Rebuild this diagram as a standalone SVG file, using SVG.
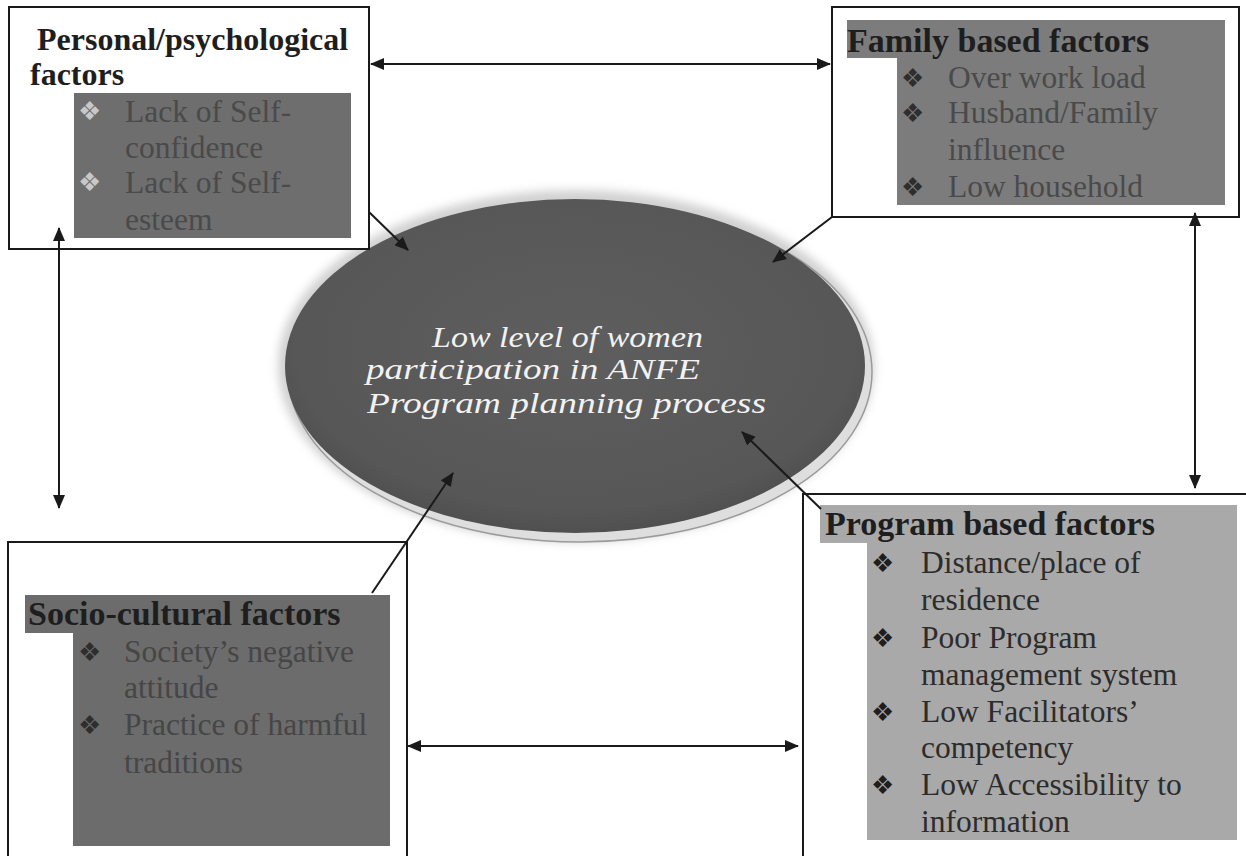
<svg xmlns="http://www.w3.org/2000/svg" width="1246" height="856" viewBox="0 0 1246 856">
<style>
.frame{fill:#ffffff;stroke:#1a1a1a;stroke-width:2}
.title{font-family:"Liberation Serif","Times New Roman",serif;font-weight:bold;fill:#1e1e1e}
.item{font-family:"Liberation Serif","Times New Roman",serif;font-size:31.5px}
.bul{font-family:"DejaVu Sans",sans-serif;font-size:26px}
.conn{stroke:#1a1a1a;stroke-width:2;fill:none}
.center{font-family:"Liberation Serif","Times New Roman",serif;font-style:italic;font-size:30px;fill:#f2f2f2}
</style>
<defs>
<marker id="ah" viewBox="0 0 14 12" refX="13" refY="6" markerWidth="14" markerHeight="12" markerUnits="userSpaceOnUse" orient="auto-start-reverse">
<path d="M0,0 L14,6 L0,12 Z" fill="#1a1a1a"/>
</marker>
<radialGradient id="eg" cx="0.5" cy="0.45" r="0.6">
<stop offset="0" stop-color="#5e5e5e"/>
<stop offset="0.8" stop-color="#575757"/>
<stop offset="1" stop-color="#4a4a4a"/>
</radialGradient>
<filter id="blur" x="-10%" y="-10%" width="120%" height="120%">
<feGaussianBlur stdDeviation="5"/>
</filter>
</defs>

<g id="center-node">
<ellipse cx="576" cy="366" rx="298" ry="176" fill="#bdbdbd" filter="url(#blur)" opacity="0.7"/>
<ellipse cx="580" cy="372" rx="292" ry="170" fill="#dedede" stroke="#9a9a9a" stroke-width="1.5"/>
<ellipse cx="575" cy="366" rx="290" ry="167" fill="url(#eg)"/>
<text class="center" x="432" y="347" textLength="271" lengthAdjust="spacingAndGlyphs">Low level of women</text>
<text class="center" x="366" y="379" textLength="334" lengthAdjust="spacingAndGlyphs">participation in ANFE</text>
<text class="center" x="367" y="413" textLength="399" lengthAdjust="spacingAndGlyphs">Program planning process</text>
</g>

<g id="personal-factors">
<rect class="frame" x="9" y="7" width="360" height="242"/>
<rect x="74" y="93" width="277" height="145" fill="#6e6e6e"/>
<text class="title" x="37" y="50" font-size="32">Personal/psychological</text>
<text class="title" x="30" y="85" font-size="32">factors</text>
<g fill="#c8c8c8">
<text class="bul" x="78" y="120">❖</text>
<text class="bul" x="78" y="191">❖</text>
</g>
<g class="item" fill="#4a4a4a">
<text x="125" y="122">Lack of Self-</text>
<text x="125" y="158">confidence</text>
<text x="125" y="193">Lack of Self-</text>
<text x="125" y="230">esteem</text>
</g>
</g>

<g id="family-factors">
<rect class="frame" x="832" y="7" width="407" height="210"/>
<path d="M847,20 H1225 V205 H897 V58 H847 Z" fill="#7c7c7c"/>
<text class="title" x="847" y="52" font-size="34">Family based factors</text>
<g fill="#2e2e2e">
<text class="bul" x="901" y="87">❖</text>
<text class="bul" x="901" y="122">❖</text>
<text class="bul" x="901" y="196">❖</text>
</g>
<g class="item" fill="#4a4a4a">
<text x="948" y="88">Over work load</text>
<text x="948" y="123">Husband/Family</text>
<text x="948" y="160">influence</text>
<text x="948" y="197">Low household</text>
</g>
</g>

<g id="socio-cultural-factors">
<rect class="frame" x="8" y="542" width="399" height="320"/>
<path d="M25,595 H390 V846 H73 V633 H25 Z" fill="#6c6c6c"/>
<text class="title" x="28" y="625" font-size="34" fill="#2a2a2a">Socio-cultural factors</text>
<g fill="#2e2e2e">
<text class="bul" x="78" y="661">❖</text>
<text class="bul" x="78" y="734">❖</text>
</g>
<g class="item" fill="#464646">
<text x="124" y="662">Society’s negative</text>
<text x="124" y="698">attitude</text>
<text x="124" y="735">Practice of harmful</text>
<text x="124" y="773">traditions</text>
</g>
</g>

<g id="program-factors">
<rect class="frame" x="803" y="494" width="460" height="370"/>
<path d="M820,505 H1237 V840 H867 V543 H820 Z" fill="#a9a9a9"/>
<text class="title" x="825" y="535" font-size="34" fill="#1a1a1a">Program based factors</text>
<g fill="#1e1e1e">
<text class="bul" x="871" y="572">❖</text>
<text class="bul" x="871" y="647">❖</text>
<text class="bul" x="871" y="721">❖</text>
<text class="bul" x="871" y="794">❖</text>
</g>
<g class="item" fill="#2c2c2c">
<text x="921" y="573">Distance/place of</text>
<text x="921" y="610">residence</text>
<text x="921" y="648">Poor Program</text>
<text x="921" y="685">management system</text>
<text x="921" y="722">Low Facilitators’</text>
<text x="921" y="758">competency</text>
<text x="921" y="795">Low Accessibility to</text>
<text x="921" y="832">information</text>
</g>
</g>

<g id="connectors">
<line class="conn" x1="371" y1="64" x2="830" y2="64" marker-start="url(#ah)" marker-end="url(#ah)"/>
<line class="conn" x1="59" y1="228" x2="59" y2="508" marker-start="url(#ah)" marker-end="url(#ah)"/>
<line class="conn" x1="1195" y1="213" x2="1195" y2="488" marker-start="url(#ah)" marker-end="url(#ah)"/>
<line class="conn" x1="408" y1="746" x2="798" y2="746" marker-start="url(#ah)" marker-end="url(#ah)"/>
<line class="conn" x1="369" y1="212" x2="408" y2="250" marker-end="url(#ah)"/>
<line class="conn" x1="832" y1="217" x2="773" y2="262" marker-end="url(#ah)"/>
<line class="conn" x1="372" y1="593" x2="453" y2="473" marker-end="url(#ah)"/>
<line class="conn" x1="821" y1="509" x2="742" y2="432" marker-end="url(#ah)"/>
</g>
</svg>
